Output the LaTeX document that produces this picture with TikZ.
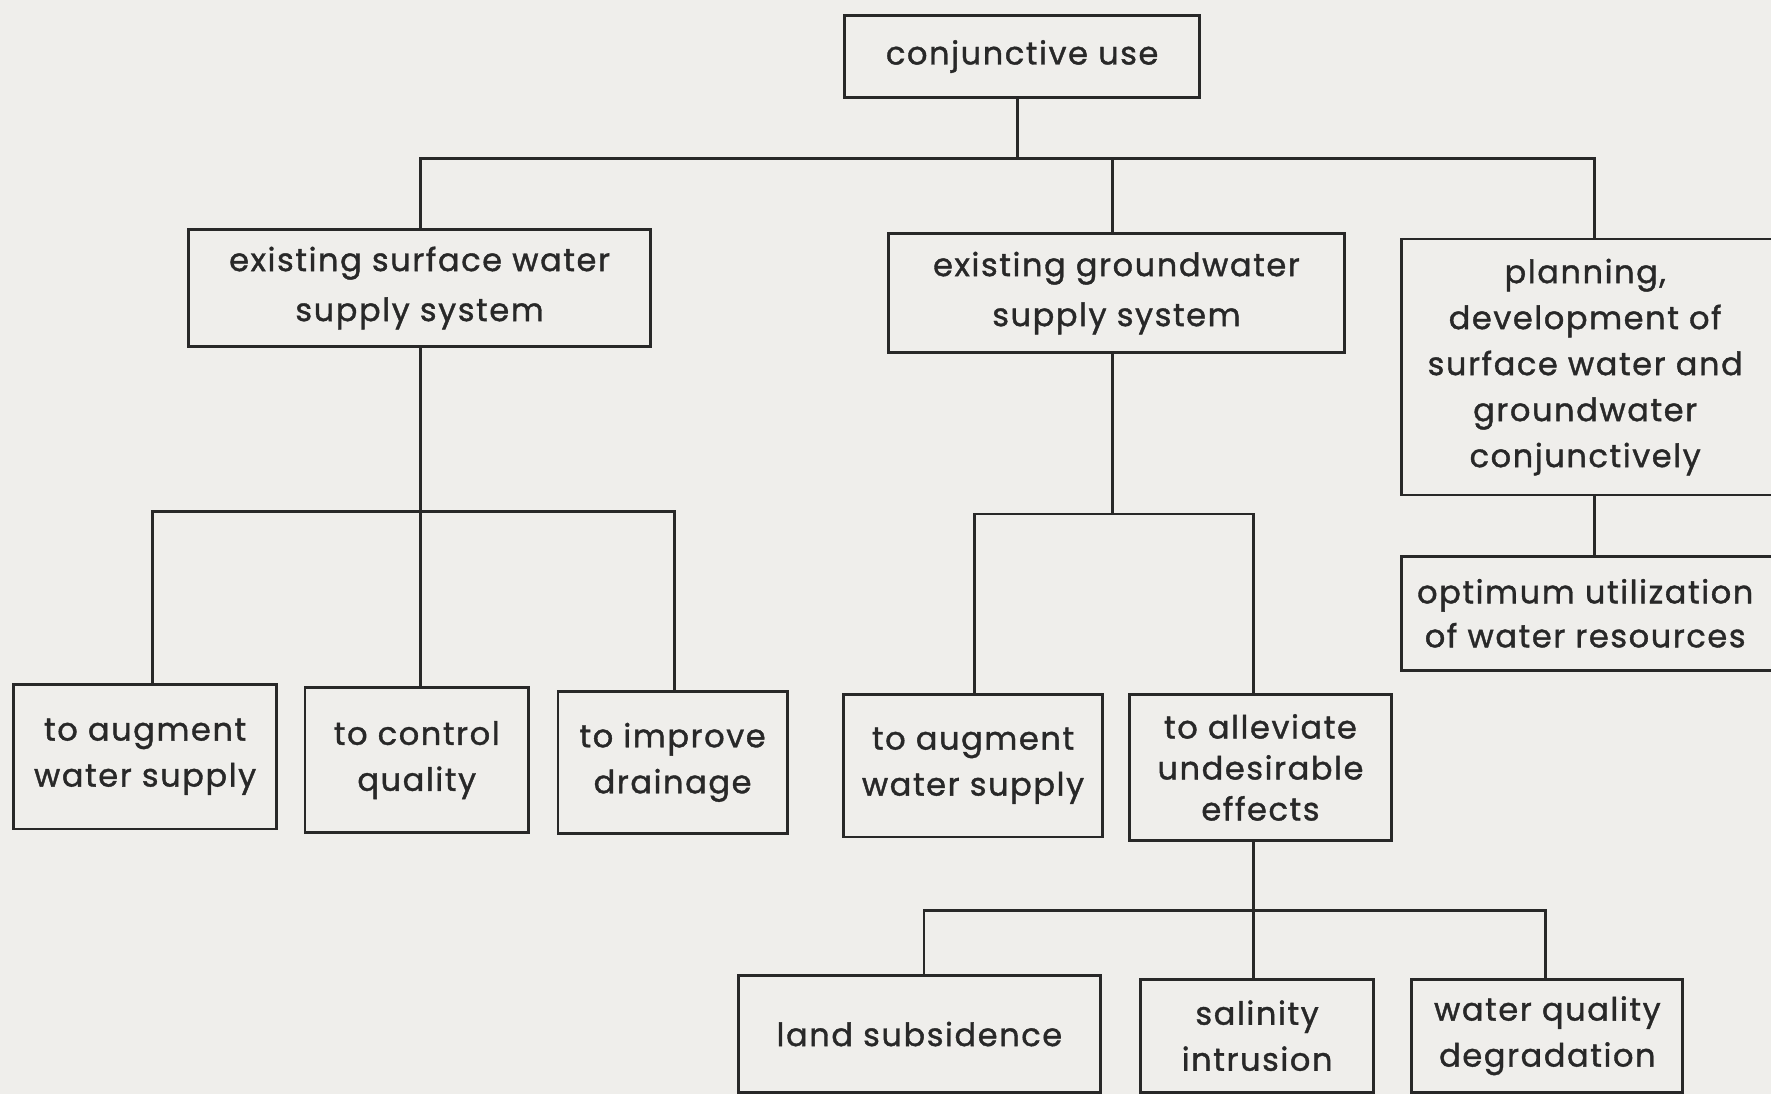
\documentclass[tikz,border=0pt]{standalone}
\usepackage{fontspec}
\setmainfont{Poppins}[LetterSpace=5,FakeBold=1.2]
\usetikzlibrary{calc}
\definecolor{paper}{RGB}{239,238,235}
\definecolor{ink}{RGB}{40,40,40}
\begin{document}
\begin{tikzpicture}[x=0.5647pt,y=-0.5647pt,
  box/.style={draw=ink, line width=1.4pt, fill=paper, align=center, inner sep=0pt,
    font=\fontsize{16}{23}\selectfont, text=ink},
  openbox/.style={draw=none, align=center, inner sep=0pt,
    font=\fontsize{16}{23}\selectfont, text=ink},
  wire/.style={draw=ink, line width=1.4pt}]
\fill[paper] (0,0) rectangle (1568,969);
\useasboundingbox (0,0) rectangle (1568,969);

% nodes
\node[box, minimum width=177.3pt, minimum height=41.2pt] (cu) at (905,50) {conjunctive use};
\node[box, minimum width=231.0pt, minimum height=58.7pt, font=\fontsize{16}{25}\selectfont] (sw) at (371.5,255) {existing surface water\\supply system};
\node[box, minimum width=227.6pt, minimum height=59.3pt, font=\fontsize{16}{25}\selectfont] (gw) at (988.5,259.5) {existing groundwater\\supply system};
\node[openbox, minimum width=183.5pt, minimum height=127.6pt] (pl) at (1403.5,325) {planning,\\development of\\surface water and\\groundwater\\conjunctively};
\node[openbox, minimum width=183.5pt, minimum height=56.5pt, font=\fontsize{16}{22}\selectfont] (opt) at (1403.5,543) {optimum utilization\\of water resources};
\draw[wire] ($(pl.north east)+(30,0)$) -| (pl.south west) -- ($(pl.south east)+(30,0)$);
\draw[wire] ($(opt.north east)+(30,0)$) -| (opt.south west) -- ($(opt.south east)+(30,0)$);

\node[box, minimum width=131.6pt, minimum height=72.3pt] (a1) at (128.5,670) {to augment\\water supply};
\node[box, minimum width=111.8pt, minimum height=72.3pt] (cq) at (369,673) {to control\\quality};
\node[box, minimum width=114.6pt, minimum height=71.2pt] (id) at (595.5,675) {to improve\\drainage};
\node[box, minimum width=129.3pt, minimum height=71.2pt] (a2) at (861.5,678) {to augment\\water supply};
\node[box, minimum width=131.0pt, minimum height=72.8pt, font=\fontsize{16}{20.5}\selectfont] (al) at (1116,679.5) {to alleviate\\undesirable\\effects};
\node[box, minimum width=180.7pt, minimum height=58.2pt] (ls) at (814,915.5) {land subsidence};
\node[box, minimum width=116.3pt, minimum height=56.5pt] (si) at (1113,917) {salinity\\intrusion};
\node[box, minimum width=135.5pt, minimum height=56.5pt] (wq) at (1370,917) {water quality\\degradation};

% junction coordinates
\coordinate (b1c) at (901,140);
\coordinate (b1s) at (372,140);
\coordinate (b1g) at (985,140);
\coordinate (b1p) at (1412,140);
\coordinate (b2a) at (135,453);
\coordinate (b2s) at (372,453);
\coordinate (b2d) at (597,453);
\coordinate (b3a) at (863,455);
\coordinate (b3g) at (985,455);
\coordinate (b3l) at (1110,455);
\coordinate (b4l) at (818,806);
\coordinate (b4a) at (1110,806);
\coordinate (b4w) at (1368,806);

% connectors
\draw[wire] (cu.south -| b1c) -- (b1c);
\draw[wire] (sw.north -| b1s) -- (b1s) -- (b1p) -- (pl.north -| b1p);
\draw[wire] (gw.north -| b1g) -- (b1g);

\draw[wire] (sw.south -| b2s) -- (cq.north -| b2s);
\draw[wire] (a1.north -| b2a) -- (b2a) -- (b2d) -- (id.north -| b2d);

\draw[wire] (gw.south -| b3g) -- (b3g);
\draw[wire] (a2.north -| b3a) -- (b3a) -- (b3l) -- (al.north -| b3l);

\draw[wire] (pl.south -| b1p) -- (opt.north -| b1p);

\draw[wire] (al.south -| b4a) -- (si.north -| b4a);
\draw[wire] (ls.north -| b4l) -- (b4l) -- (b4w) -- (wq.north -| b4w);
\end{tikzpicture}
\end{document}
